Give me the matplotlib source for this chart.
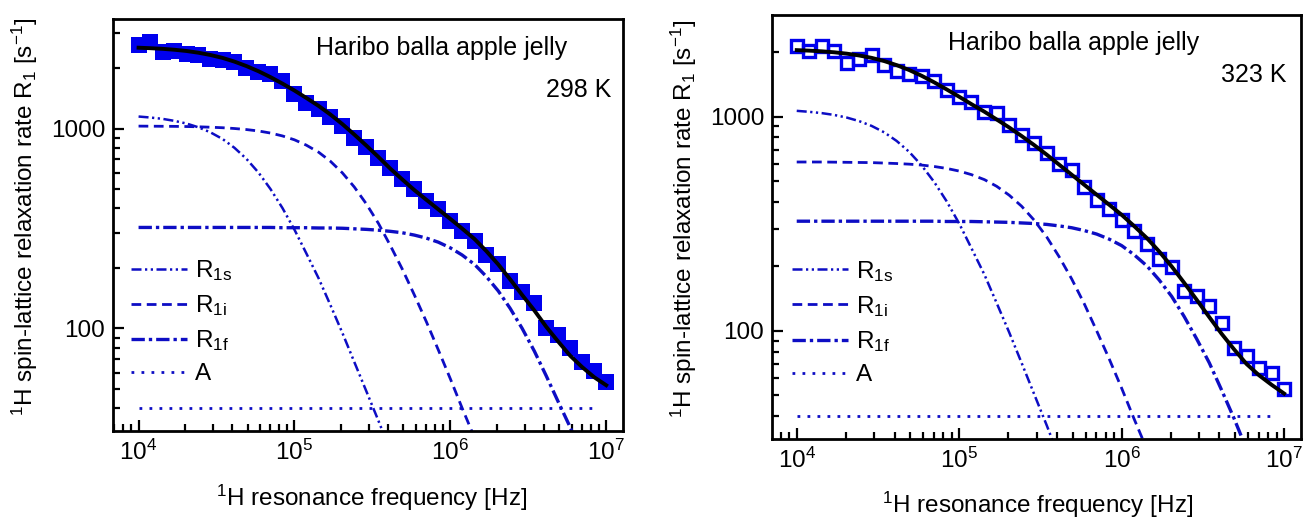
import matplotlib
matplotlib.use('Agg')
import matplotlib.pyplot as plt
from matplotlib.ticker import FuncFormatter, NullFormatter, LogLocator

plt.rcParams['font.family'] = 'Liberation Sans'
plt.rcParams['mathtext.fontset'] = 'custom'
plt.rcParams['mathtext.rm'] = 'Liberation Sans'
plt.rcParams['mathtext.it'] = 'Liberation Sans:italic'
plt.rcParams['mathtext.bf'] = 'Liberation Sans:bold'

# frequencies of the measured points [Hz]
freq = [1.00e4, 1.19e4, 1.43e4, 1.70e4, 2.03e4, 2.42e4, 2.89e4, 3.46e4, 4.12e4, 4.92e4,
        5.88e4, 7.02e4, 8.38e4, 1.00e5, 1.19e5, 1.43e5, 1.70e5, 2.03e5, 2.42e5, 2.89e5,
        3.46e5, 4.12e5, 4.92e5, 5.88e5, 7.02e5, 8.38e5, 1.00e6, 1.19e6, 1.43e6, 1.70e6,
        2.03e6, 2.42e6, 2.89e6, 3.46e6, 4.12e6, 4.92e6, 5.88e6, 7.02e6, 8.38e6, 1.00e7]

# 298 K
r1_298 = [2610, 2700, 2400, 2440, 2370, 2320, 2235, 2195, 2150, 2000,
          1920, 1880, 1720, 1480, 1340, 1250, 1140, 1030, 900, 805,
          716, 637, 557, 497, 434, 394, 344, 307, 273, 234,
          209, 172, 153, 134, 100, 93, 79.6, 68, 61, 54]
fit_298 = [2536, 2522, 2503, 2477, 2442, 2394, 2332, 2255, 2161, 2053,
           1934, 1807, 1677, 1549, 1423, 1297, 1175, 1052, 933, 822,
           720, 630, 556, 492, 440, 394, 353, 316, 280, 244,
           209, 176, 147, 123, 102, 86, 73, 64, 57, 52]
r1s_298 = [1148, 1135, 1117, 1092, 1059, 1014, 957, 886, 801, 705,
           602, 498, 400, 312, 238, 178, 131, 95, 68, 48.6,
           34.5, 24.4, 17.3, 12.2, 8.6, 6.0, 4.2, 3.0, 2.1, 1.5,
           1.0, 0.7, 0.5, 0.35, 0.25, 0.18, 0.12, 0.09, 0.06, 0.04]
r1i_298 = [1028, 1027, 1026, 1025, 1023, 1020, 1015, 1009, 1000, 988,
           972, 949, 918, 878, 826, 761, 686, 600, 510, 420,
           335, 260, 198, 147, 108, 78, 56, 40, 28.4, 20.1,
           14.2, 10.0, 7.0, 5.0, 3.5, 2.4, 1.7, 1.2, 0.85, 0.6]
r1f_298 = [320, 320, 320, 320, 320, 320, 320, 320, 320, 320,
           320, 320, 319, 319, 319, 318, 318, 317, 315, 313,
           310, 306, 301, 293, 283, 270, 253, 233, 209, 182,
           154, 126, 100, 77, 58, 43, 32, 23, 16, 12]

# 323 K
r1_323 = [2143, 2018, 2143, 2018, 1778, 1857, 1945, 1746, 1625, 1585,
          1551, 1459, 1334, 1241, 1176, 1055, 1037, 914, 820, 750,
          673, 604, 562, 470, 407, 372, 328, 294, 255, 217,
          198, 154, 146, 131, 109, 83.6, 76.4, 67.3, 63.8, 53.3]
fit_323 = [2043, 2032, 2017, 1996, 1967, 1929, 1880, 1816, 1739, 1650,
           1550, 1445, 1339, 1238, 1143, 1054, 970, 890, 812, 737,
           664, 597, 536, 481, 432, 388, 348, 309, 271, 235,
           200, 168, 140, 116, 97, 82, 70, 62, 56, 51]
r1s_323 = [1064, 1053, 1038, 1018, 990, 953, 905, 844, 770, 685,
           591, 495, 402, 317, 243, 183, 135, 98.5, 71, 50.8,
           36.2, 25.6, 18.1, 12.8, 9.0, 6.3, 4.45, 3.1, 2.2, 1.54,
           1.08, 0.76, 0.53, 0.37, 0.26, 0.18, 0.13, 0.09, 0.06, 0.045]
r1i_323 = [614, 614, 614, 613, 612, 611, 610, 607, 604, 600,
           594, 585, 573, 557, 536, 508, 473, 430, 382, 329,
           274, 222, 175, 134, 100, 74, 54, 39, 28, 20,
           14, 9.9, 7.0, 4.9, 3.5, 2.5, 1.76, 1.25, 0.88, 0.62]
r1f_323 = [325, 325, 325, 325, 325, 325, 325, 325, 325, 325,
           325, 325, 324, 324, 324, 323, 322, 321, 319, 317,
           314, 309, 303, 294, 283, 268, 250, 227, 201, 173,
           145, 117, 92, 71, 53, 39, 28, 20.5, 14.6, 10.4]

# constant contribution A
a_freq = [1.0e4, 8.8e6]
a_298 = [40, 40]
a_323 = [40, 40]

line_col = '#0d0dc4'
sq_col = '#0000ee'


def style_axes(ax, xlim, ylim):
    ax.set_xscale('log')
    ax.set_yscale('log')
    ax.set_xlim(*xlim)
    ax.set_ylim(*ylim)
    ax.xaxis.set_minor_locator(LogLocator(base=10, subs=range(2, 10)))
    ax.yaxis.set_minor_locator(LogLocator(base=10, subs=range(2, 10)))
    ax.yaxis.set_major_formatter(FuncFormatter(lambda v, pos: f'{v:g}'))
    ax.yaxis.set_minor_formatter(NullFormatter())
    ax.xaxis.set_minor_formatter(NullFormatter())
    ax.tick_params(which='both', direction='in', top=False, right=False,
                   width=1.6, labelsize=17.5)
    ax.tick_params(which='major', length=8, pad=6)
    ax.tick_params(which='minor', length=5)
    for s in ax.spines.values():
        s.set_linewidth(2)


def draw_panel(ax, rs, ri, rf, a, data, fit, filled):
    ax.plot(freq, rs, color=line_col, lw=1.8, ls=(0, (4, 1.4, 0.9, 1.4, 0.9, 1.4)), label=r'R$_{\mathrm{1s}}$')
    ax.plot(freq, ri, color=line_col, lw=2.0, ls=(0, (3.5, 2)), label=r'R$_{\mathrm{1i}}$')
    ax.plot(freq, rf, color=line_col, lw=2.4, ls=(0, (4, 1.2, 1, 1.2)), label=r'R$_{\mathrm{1f}}$')
    ax.plot(a_freq, a, color=line_col, lw=2.0, ls=(0, (1, 2.6)), label='A')
    if filled:
        ax.plot(freq, data, 's', color=sq_col, ms=11, mew=0)
    else:
        ax.plot(freq, data, 's', mfc='none', mec=sq_col, ms=8.5, mew=2.4)
    ax.plot(freq, fit, color='black', lw=2.8)


fig = plt.figure(figsize=(13.04, 5.19), dpi=100)

# linkerplot 298 K
ax1 = fig.add_axes([0.0870, 0.1696, 0.3911, 0.7938])
draw_panel(ax1, r1s_298, r1i_298, r1f_298, a_298, r1_298, fit_298, True)
style_axes(ax1, (6.9e3, 1.29e7), (30.7, 3530))
ax1.legend(loc='center left', bbox_to_anchor=(0.034, 0.265), frameon=False, fontsize=17.5,
           handlelength=2.3, handletextpad=0.35, labelspacing=0.42, borderpad=0, borderaxespad=0)
ax1.text(0.644, 0.93, 'Haribo balla apple jelly', transform=ax1.transAxes, ha='center', va='center', fontsize=18)
ax1.text(0.977, 0.828, '298 K', transform=ax1.transAxes, ha='right', va='center', fontsize=18)
ax1.set_xlabel(r'$^{1}$H resonance frequency [Hz]', fontsize=17.5)
ax1.set_ylabel(r'$^{1}$H spin-lattice relaxation rate R$_{1}$ [s$^{-1}$]', fontsize=17.5)
ax1.xaxis.set_label_coords(0.507, -0.126)
ax1.yaxis.set_label_coords(-0.144, 0.52)

# rechterplot 323 K
ax2 = fig.add_axes([0.5923, 0.1536, 0.4054, 0.8181])
draw_panel(ax2, r1s_323, r1i_323, r1f_323, a_323, r1_323, fit_323, False)
style_axes(ax2, (7.08e3, 1.27e7), (31.2, 2990))
ax2.legend(loc='center left', bbox_to_anchor=(0.037, 0.275), frameon=False, fontsize=17.5,
           handlelength=2.3, handletextpad=0.35, labelspacing=0.42, borderpad=0, borderaxespad=0)
ax2.text(0.569, 0.933, 'Haribo balla apple jelly', transform=ax2.transAxes, ha='center', va='center', fontsize=18)
ax2.text(0.9735, 0.858, '323 K', transform=ax2.transAxes, ha='right', va='center', fontsize=18)
ax2.set_xlabel(r'$^{1}$H resonance frequency [Hz]', fontsize=17.5)
ax2.set_ylabel(r'$^{1}$H spin-lattice relaxation rate R$_{1}$ [s$^{-1}$]', fontsize=17.5)
ax2.xaxis.set_label_coords(0.502, -0.119)
ax2.yaxis.set_label_coords(-0.139, 0.52)

plt.savefig('out.png', dpi=100, facecolor='white')
